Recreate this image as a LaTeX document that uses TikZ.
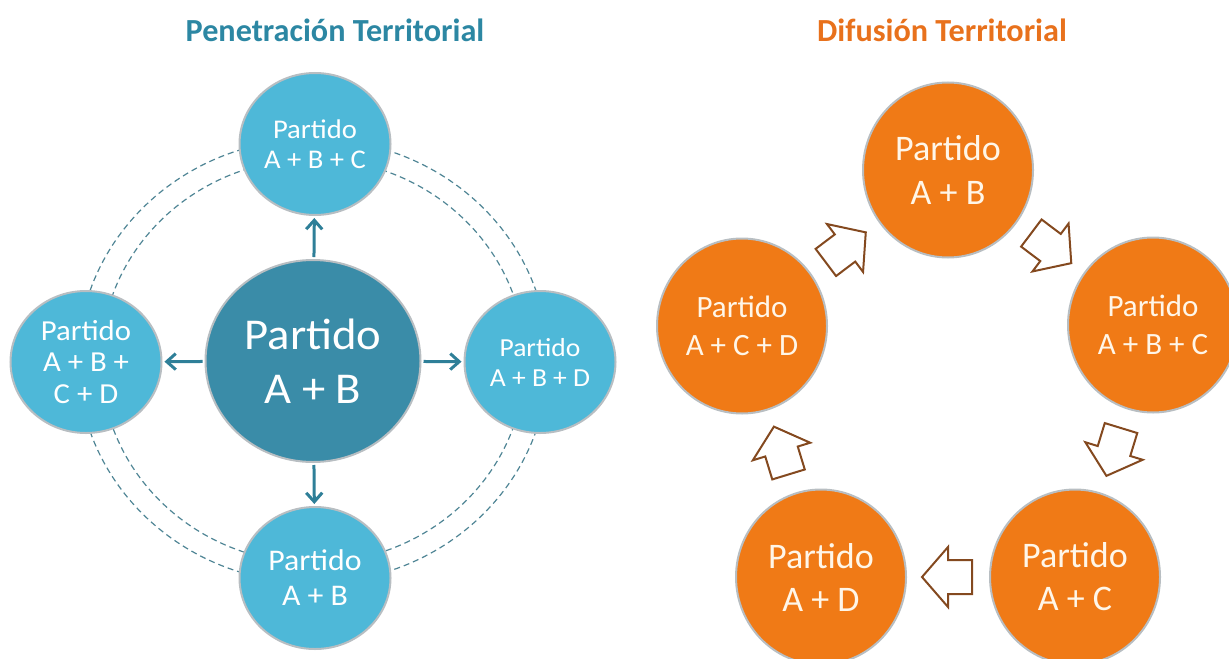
\documentclass[tikz,border=0pt]{standalone}
\usepackage{fontspec}
\setmainfont{Carlito}
\newfontfamily\lftfont{Carlito}[FakeStretch=1.06]
\usetikzlibrary{calc,arrows.meta,shapes.geometric}
\definecolor{tealdark}{HTML}{3A8CA8}
\definecolor{teallight}{HTML}{4EB8D8}
\definecolor{tealline}{HTML}{2E7F98}
\definecolor{tealtitle}{HTML}{2C87A3}
\definecolor{dashcol}{HTML}{4F8595}
\definecolor{orangec}{HTML}{F07A16}
\definecolor{orangetitle}{HTML}{E8711C}
\definecolor{brownline}{HTML}{84491F}
\definecolor{rimgray}{HTML}{B8BEC2}
\definecolor{textcream}{HTML}{FFF6E8}
\newcommand{\flecha}[3]{%
  \begin{scope}[shift={($(#1)!0.5!(#2)$)}, rotate=#3]
    \draw[barrow] (-24,-17) -- (0,-17) -- (0,-30) -- (26,0) -- (0,30) -- (0,17) -- (-24,17) -- cycle;
  \end{scope}}
\begin{document}
\begin{tikzpicture}[x=0.5pt,y=-0.5pt,
  tealsat/.style={ellipse, fill=teallight, draw=rimgray, line width=1pt, minimum width=75.5pt, minimum height=71pt, inner sep=0pt, text=white, align=center},
  tealmain/.style={tealsat, fill=tealdark, minimum width=107.5pt, minimum height=101pt},
  orangesat/.style={ellipse, fill=orangec, draw=rimgray, line width=1pt, minimum width=85pt, minimum height=87.5pt, inner sep=0pt, text=textcream, align=center},
  tarrow/.style={draw=tealline, line width=1.5pt, -{Straight Barb[length=4.5pt,width=8pt]}, shorten <=1pt, shorten >=1pt},
  dring/.style={draw=dashcol, line width=0.6pt, dash pattern=on 3pt off 2pt},
  barrow/.style={draw=brownline, line width=1pt, fill=white, line join=miter},
  ttl/.style={font=\fontsize{16.1}{19}\selectfont\bfseries}
]
\useasboundingbox (0,0) rectangle (1229,658);
\clip (0,0) rectangle (1229,658);

% titles
\node[ttl, text=tealtitle] (t1) at (335,30) {Penetración Territorial};
\node[ttl, text=orangetitle] (t2) at (942,30) {Difusión Territorial};

% left diagram
\coordinate (ctr) at (313,361);
\draw[dring] (ctr) ellipse [x radius=117.5pt, y radius=111pt];
\draw[dring] (ctr) ellipse [x radius=106pt, y radius=101pt];

\node[tealmain, font=\lftfont\fontsize{22}{27}\selectfont] (C) at (ctr) {Partido\\A + B};
\node[tealsat, font=\lftfont\fontsize{13.5}{15}\selectfont] (T) at (315,144) {Partido\\A + B + C};
\node[tealsat, font=\lftfont\fontsize{14.5}{15.75}\selectfont] (L) at (86,362) {Partido\\A + B +\\C + D};
\node[tealsat, font=\lftfont\fontsize{13}{15}\selectfont] (R) at (540,362) {Partido\\A + B + D};
\node[tealsat, font=\lftfont\fontsize{15}{17.5}\selectfont] (B) at (315,578) {Partido\\A + B};

\draw[tarrow] (C) -- (T);
\draw[tarrow] (C) -- (L);
\draw[tarrow] (C) -- (R);
\draw[tarrow] (C) -- (B);

% right diagram
\node[orangesat, font=\fontsize{18}{22}\selectfont] (O1) at (948,170) {Partido\\A + B};
\node[orangesat, font=\fontsize{15.5}{19}\selectfont] (O2) at (1153,325) {Partido\\A + B + C};
\node[orangesat, font=\fontsize{18}{21.5}\selectfont] (O3) at (1075,577) {Partido\\A + C};
\node[orangesat, font=\fontsize{18}{21.5}\selectfont] (O4) at (821,577) {Partido\\A + D};
\node[orangesat, font=\fontsize{15.5}{19}\selectfont] (O5) at (742,326) {Partido\\A + C + D};

\flecha{O5}{O1}{37}
\flecha{O1}{O2}{-37}
\flecha{O2}{O3}{-107}
\flecha{O3}{O4}{180}
\flecha{O4}{O5}{107}
\end{tikzpicture}
\end{document}
